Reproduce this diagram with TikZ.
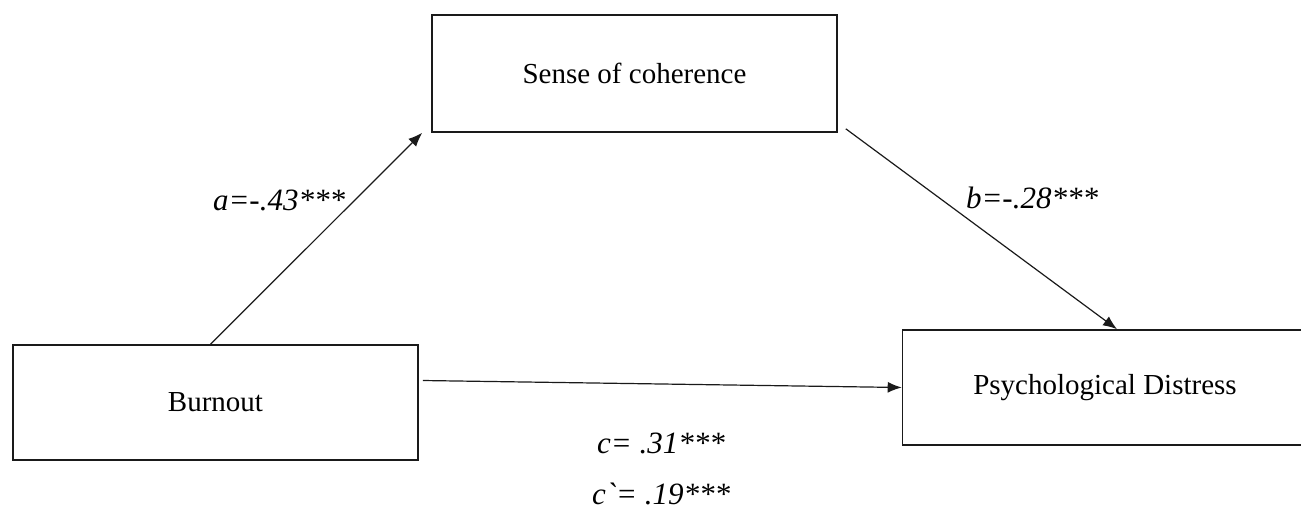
\documentclass[tikz,border=0pt]{standalone}
\usepackage{fontspec}
\setmainfont{Liberation Serif}
\usepackage{xcolor}
\usetikzlibrary{arrows.meta,calc,positioning}
\definecolor{cLine}{HTML}{1A1A1A}
\tikzset{
  >={Latex[length=7pt,width=5.5pt]},
  var/.style  ={draw=cLine,thick,minimum width=202.5pt,minimum height=57.5pt,inner sep=0pt,
                font=\fontsize{14.5}{17}\selectfont},
  effect/.style={->,semithick,cLine},
  coef/.style ={inner sep=0pt,font=\fontsize{15.5}{18}\selectfont\itshape},
}

\begin{document}
\begin{tikzpicture}[x=0.5pt,y=-0.5pt]
  \useasboundingbox (0,0) rectangle (1301,510);
  % variables
  \node[var] (burnout) at (215.5,402.5) {Burnout};
  \node[var,minimum height=58.5pt] (soc) at (634.5,73.5) {Sense of coherence};
  \node[var] (distress) at (1105,387.5) {Psychological Distress};
  % paths
  \draw[effect] ($(burnout.north)+(-5,0)$) -- ($(soc.south west)+(-9,0)$);
  \draw[effect] ($(soc.south east)+(8,-4)$) -- ($(distress.north)+(12,0)$);
  \draw[effect] ($(burnout.east)+(4,-22)$) -- (distress.west);
  % coefficients
  \node[coef] (coefA) at (279,200) {a=-.43***};
  \node[coef] (coefB) at (1032,198) {b=-.28***};
  \node[coef] (coefC) at (661,443) {c= .31***};
  \node[coef] (coefCd) at (661,494) {c\textasciigrave= .19***};
\end{tikzpicture}
\end{document}
